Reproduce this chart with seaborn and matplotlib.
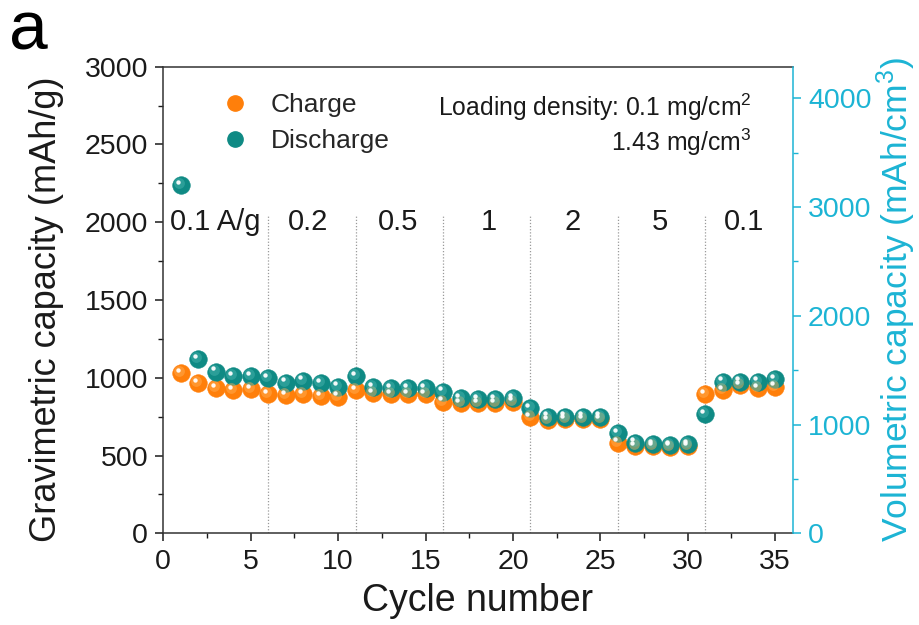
import numpy as np
import pandas as pd
import matplotlib
matplotlib.use("Agg")
import matplotlib.pyplot as plt
import matplotlib.transforms as mtransforms
from matplotlib.lines import Line2D
from matplotlib.ticker import MultipleLocator
import seaborn as sns

# ---- data -------------------------------------------------------------
cycles = list(range(1, 36))
charge = [1031, 964, 932, 921, 926, 896, 889, 894, 883, 878,
          921, 900, 896, 896, 896, 846, 836, 836, 836, 846,
          746, 728, 735, 735, 735, 583, 561, 562, 556, 562,
          894, 921, 954, 932, 943]
discharge = [2239, 1119, 1039, 1011, 1011, 997, 968, 981, 964, 943,
             1011, 939, 932, 932, 932, 910, 868, 862, 862, 868,
             804, 750, 750, 750, 750, 643, 583, 574, 568, 574,
             767, 975, 975, 975, 990]
rate_labels = ["0.1 A/g", "0.2", "0.5", "1", "2", "5", "0.1"]
rate_label_x = [3.0, 8.3, 13.4, 18.6, 23.4, 28.4, 33.2]
rate_bounds = [6, 11, 16, 21, 26, 31]
density = 1.43  # mg/cm3, converts mAh/g to mAh/cm3

df = pd.DataFrame({"cycle": cycles, "Charge": charge, "Discharge": discharge})

# ---- style ------------------------------------------------------------
sns.set_theme(style="ticks")
plt.rcParams["font.family"] = ["Liberation Sans", "DejaVu Sans"]
plt.rcParams["mathtext.default"] = "regular"

ORANGE = "#ff7f0a"
TEAL = "#0f8a84"
CYAN = "#1cb4d4"
INK = "#1a1a1a"

fig = plt.figure(figsize=(9.2, 6.25), dpi=100)
ax = fig.add_axes([0.1775, 0.1467, 0.6841, 0.7466])


def sphere(series, color, light):
    """Scatter a series as shaded balls: body, soft glow and a specular dot."""
    sns.scatterplot(data=df, x="cycle", y=series, ax=ax, s=160, color=color,
                    edgecolor=color, linewidth=0.4, zorder=3, legend=False)
    glow = mtransforms.offset_copy(ax.transData, fig=fig, x=-1.3, y=1.4, units="points")
    ax.scatter(df["cycle"], df[series], s=60, color=light, alpha=0.45,
               linewidths=0, transform=glow, zorder=3.1)
    spec = mtransforms.offset_copy(ax.transData, fig=fig, x=-2.2, y=2.4, units="points")
    ax.scatter(df["cycle"], df[series], s=10, color="white", alpha=0.95,
               linewidths=0, transform=spec, zorder=3.2)


sphere("Charge", ORANGE, "#ffb35c")
sphere("Discharge", TEAL, "#4fb8b2")

# rate boundaries and labels
for xb in rate_bounds:
    ax.plot([xb, xb], [0, 2040], ls=(0, (1, 1.5)), color="#9a9a9a", lw=0.9, zorder=1)
for lx, lab in zip(rate_label_x, rate_labels):
    ax.text(lx, 2000, lab, ha="center", va="center", fontsize=21, color=INK)

ax.set_xlim(0, 36)
ax.set_ylim(0, 3000)
ax.xaxis.set_major_locator(MultipleLocator(5))
ax.xaxis.set_minor_locator(MultipleLocator(2.5))
ax.yaxis.set_major_locator(MultipleLocator(500))
ax.yaxis.set_minor_locator(MultipleLocator(250))
ax.tick_params(axis="both", which="major", direction="out", length=6, width=1.1,
               labelsize=20.5, colors=INK, pad=5)
ax.tick_params(axis="both", which="minor", direction="out", length=3.5, width=1.0, colors=INK)
ax.tick_params(top=False, right=False, which="both")
for side in ["left", "bottom", "top"]:
    ax.spines[side].set_color("#333333")
    ax.spines[side].set_linewidth(1.1)
ax.spines["right"].set_visible(False)
ax.set_xlabel("Cycle number", fontsize=27, color=INK, labelpad=6)
ax.set_ylabel("Gravimetric capacity (mAh/g)", fontsize=26, color=INK, labelpad=15)
ax.yaxis.label.set_y(0.48)

# volumetric axis
ax2 = ax.twinx()
ax2.set_position(ax.get_position())
ax2.set_ylim(0, 3000 * density)
ax2.yaxis.set_major_locator(MultipleLocator(1000))
ax2.yaxis.set_minor_locator(MultipleLocator(500))
ax2.tick_params(axis="y", which="major", direction="out", length=6, width=1.1,
                labelsize=20.5, colors=CYAN, pad=5)
ax2.tick_params(axis="y", which="minor", direction="out", length=3.5, width=1.0, colors=CYAN)
for side in ["left", "bottom", "top"]:
    ax2.spines[side].set_visible(False)
ax2.spines["right"].set_color(CYAN)
ax2.spines["right"].set_linewidth(1.1)
ax2.set_ylabel("Volumetric capacity (mAh/cm$^3$)", fontsize=25.5, color=CYAN, labelpad=2)
ax2.grid(False)

# legend
handles = [Line2D([], [], ls="none", marker="o", markersize=11, color=ORANGE,
                  markeredgecolor=ORANGE, label="Charge"),
           Line2D([], [], ls="none", marker="o", markersize=11, color=TEAL,
                  markeredgecolor=TEAL, label="Discharge")]
ax.legend(handles=handles, loc="upper left", bbox_to_anchor=(0.0935, 0.943),
          frameon=False, fontsize=19, handlelength=1.0, handletextpad=0.85,
          labelspacing=0.45, borderpad=0, borderaxespad=0)

ax.text(0.935, 0.914, "Loading density: 0.1 mg/cm$^2$", transform=ax.transAxes,
        ha="right", va="center", fontsize=17.8, color=INK)
ax.text(0.935, 0.839, "1.43 mg/cm$^3$", transform=ax.transAxes,
        ha="right", va="center", fontsize=17.8, color=INK)

fig.text(0.01, 1.0, "a", ha="left", va="top", fontsize=50, color="black")

fig.savefig("out.png", dpi=100)
